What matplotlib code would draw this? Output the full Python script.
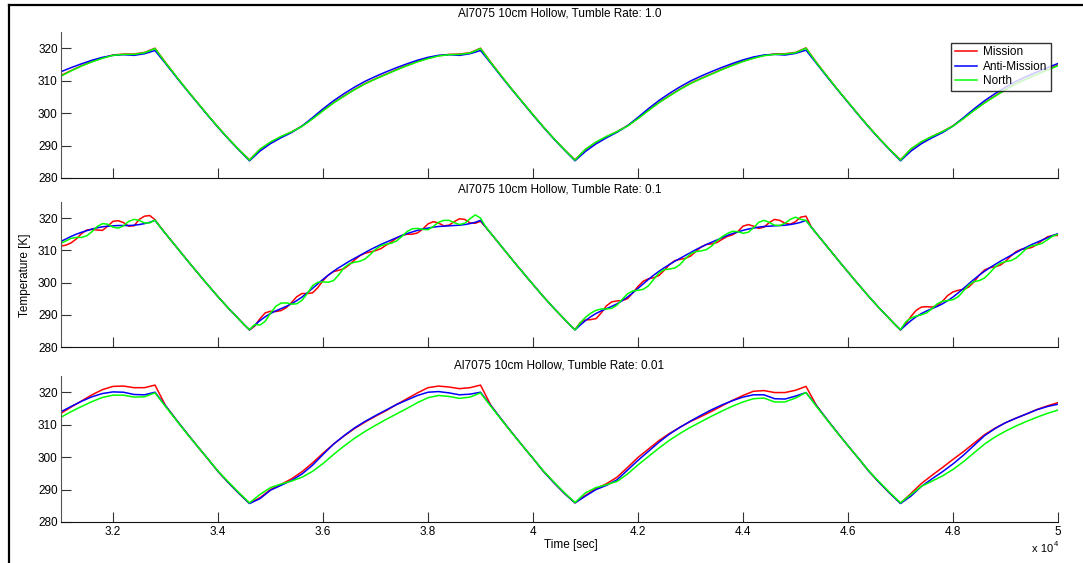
import numpy as np
import matplotlib
matplotlib.use("Agg")
import matplotlib.pyplot as plt
from matplotlib.lines import Line2D

plt.rcParams['font.family'] = ['Liberation Sans', 'DejaVu Sans']

# time grids (s): 200 s sampling for the smooth panels, 100 s for the tumbling one
t_coarse = np.linspace(31000, 50000, 96)
t_fine = np.linspace(31000, 50000, 191)

series_names = ["Mission", "Anti-Mission", "North"]
series_colors = ["#ff0000", "#0000ff", "#00ff00"]
titles = ["Al7075 10cm Hollow, Tumble Rate: 1.0",
          "Al7075 10cm Hollow, Tumble Rate: 0.1",
          "Al7075 10cm Hollow, Tumble Rate: 0.01"]
xtick_vals = [32000, 34000, 36000, 38000, 40000, 42000, 44000, 46000, 48000, 50000]
xtick_text = ["3.2", "3.4", "3.6", "3.8", "4", "4.2", "4.4", "4.6", "4.8", "5"]
ytick_vals = [280, 290, 300, 310, 320]

# ---- tumble rate 1.0 (t_coarse) ----
mission_1 = [
    311.5, 313.1, 314.6, 315.9, 317.0, 317.9, 318.2, 318.2, 318.7, 320.0,
    315.6, 311.4, 307.3, 303.4, 299.5, 295.7, 292.1, 288.7, 285.6,
    288.8, 291.0, 292.7, 294.2, 296.0, 298.3, 300.8, 303.2, 305.3, 307.3,
    309.1, 310.6, 312.0, 313.4, 314.7, 315.9, 316.9, 317.7, 318.1, 318.2, 318.6,
    320.0,
    315.6, 311.4, 307.3, 303.4, 299.5, 295.7, 292.1, 288.7, 285.6,
    288.8, 291.0, 292.7, 294.3, 296.1, 298.4, 300.9, 303.3, 305.4, 307.4,
    309.2, 310.7, 312.1, 313.5, 314.8, 316.0, 317.0, 317.8, 318.2, 318.3, 318.7,
    320.1,
    315.6, 311.4, 307.3, 303.4, 299.5, 295.7, 292.1, 288.7, 285.6,
    288.9, 291.1, 292.8, 294.3, 296.1, 298.4, 300.9, 303.2, 305.3, 307.3,
    309.1, 310.6, 312.0, 313.4, 314.8]
anti_1 = [
    312.7, 314.0, 315.2, 316.3, 317.2, 317.8, 318.0, 317.8, 318.3, 319.3,
    315.3, 311.2, 307.2, 303.3, 299.4, 295.6, 292.0, 288.6, 285.3,
    288.3, 290.6, 292.4, 294.0, 296.0, 298.6, 301.3, 303.8, 306.0, 308.0,
    309.8, 311.3, 312.7, 314.0, 315.2, 316.3, 317.2, 317.8, 318.0, 317.8, 318.3,
    319.3,
    315.3, 311.2, 307.2, 303.3, 299.4, 295.6, 292.0, 288.6, 285.3,
    288.2, 290.5, 292.4, 294.1, 296.1, 298.7, 301.4, 303.9, 306.1, 308.1,
    309.9, 311.4, 312.8, 314.1, 315.3, 316.4, 317.3, 317.9, 318.1, 317.9, 318.4,
    319.4,
    315.3, 311.2, 307.2, 303.3, 299.4, 295.6, 292.0, 288.6, 285.3,
    288.3, 290.6, 292.4, 294.0, 296.0, 298.6, 301.3, 303.8, 306.0, 308.0,
    309.8, 311.3, 312.7, 314.0, 315.3]
north_1 = [
    311.3, 313.0, 314.5, 315.8, 316.9, 317.8, 318.1, 318.1, 318.6, 319.9,
    315.5, 311.4, 307.3, 303.4, 299.5, 295.7, 292.1, 288.7, 285.5,
    288.9, 291.1, 292.8, 294.2, 295.9, 298.2, 300.7, 303.1, 305.2, 307.2,
    309.0, 310.5, 311.9, 313.3, 314.6, 315.8, 316.8, 317.6, 318.0, 318.1, 318.5,
    319.9,
    315.5, 311.4, 307.3, 303.4, 299.5, 295.7, 292.1, 288.7, 285.5,
    288.9, 291.1, 292.8, 294.3, 296.0, 298.3, 300.8, 303.2, 305.3, 307.3,
    309.1, 310.6, 312.0, 313.4, 314.7, 315.9, 316.9, 317.7, 318.1, 318.2, 318.6,
    320.0,
    315.5, 311.4, 307.3, 303.4, 299.5, 295.7, 292.1, 288.7, 285.5,
    289.0, 291.2, 292.8, 294.3, 296.0, 298.3, 300.8, 303.1, 305.2, 307.2,
    309.0, 310.5, 311.9, 313.3, 314.6]

# ---- tumble rate 0.1 (t_fine) ----
mission_2 = [
    311.3, 311.6, 312.3, 313.5, 315.2, 316.3, 316.5, 316.3, 316.2, 317.5,
    319.0, 319.2, 318.6, 317.5, 317.6, 319.6, 320.6, 320.8, 319.5,
    317.3, 315.2, 313.2, 311.2, 309.2, 307.2, 305.2, 303.3, 301.3, 299.4,
    297.5, 295.6, 293.8, 292.0, 290.3, 288.6, 286.9, 285.3,
    286.5, 288.8, 290.6, 291.1, 291.0, 291.3, 292.2, 293.8, 295.6, 296.6,
    296.6, 296.8, 298.4, 300.6, 302.3, 303.4, 303.8, 304.3, 305.5, 307.0,
    308.3, 309.1, 309.5, 309.9, 310.5, 311.6, 312.6, 313.8, 314.6, 315.0,
    315.0, 315.4, 316.6, 318.2, 318.9, 318.5, 317.6, 317.8, 318.9, 319.8,
    319.6, 318.5, 318.4,
    319.0,
    317.2, 315.2, 313.2, 311.2, 309.2, 307.2, 305.2, 303.3, 301.3, 299.4,
    297.5, 295.6, 293.8, 292.0, 290.3, 288.6, 286.9, 285.4,
    287.6, 288.4, 288.5, 288.8, 290.6, 292.8, 294.0, 294.3, 294.4, 295.0,
    296.8, 298.8, 300.4, 301.2, 301.5, 302.2, 303.8, 305.6, 306.8, 307.2,
    307.5, 308.2, 309.6, 311.0, 311.8, 312.0, 312.4, 313.4, 314.3, 314.8,
    315.8, 317.5, 318.0, 317.5, 316.8, 317.2, 318.6, 319.6, 319.3, 318.4,
    318.1, 318.9, 320.3,
    320.6,
    317.3, 315.2, 313.2, 311.2, 309.2, 307.2, 305.2, 303.3, 301.3, 299.4,
    297.5, 295.6, 293.8, 292.0, 290.3, 288.6, 286.9, 285.3,
    287.2, 289.5, 291.4, 292.4, 292.5, 292.4, 292.8, 294.2, 296.0, 297.1,
    297.6, 297.9, 298.6, 300.2, 302.3, 303.9, 304.6, 304.9, 305.4, 306.6,
    308.2, 309.6, 310.3, 310.5, 310.9, 311.8, 313.1, 314.2, 314.6, 314.6]
anti_2 = [
    312.7, 313.5, 314.3, 315.0, 315.6, 316.1, 316.6, 317.0, 317.3, 317.5,
    317.6, 317.7, 317.7, 317.7, 317.8, 318.0, 318.3, 318.7, 319.3,
    317.2, 315.2, 313.2, 311.2, 309.2, 307.2, 305.2, 303.3, 301.3, 299.4,
    297.5, 295.6, 293.8, 292.0, 290.3, 288.6, 286.9, 285.3,
    286.8, 288.2, 289.4, 290.4, 291.2, 291.9, 292.6, 293.4, 294.4, 295.5,
    296.8, 298.2, 299.6, 301.0, 302.3, 303.5, 304.6, 305.6, 306.6, 307.5,
    308.4, 309.3, 310.2, 311.0, 311.8, 312.5, 313.2, 313.9, 314.6, 315.2,
    315.7, 316.2, 316.6, 316.9, 317.2, 317.4, 317.5, 317.6, 317.7, 317.8,
    318.0, 318.3, 318.7,
    319.3,
    317.2, 315.2, 313.2, 311.2, 309.2, 307.2, 305.2, 303.3, 301.3, 299.4,
    297.5, 295.6, 293.8, 292.0, 290.3, 288.6, 286.9, 285.3,
    286.8, 288.2, 289.4, 290.4, 291.2, 291.9, 292.6, 293.4, 294.4, 295.5,
    296.8, 298.2, 299.6, 301.0, 302.3, 303.5, 304.6, 305.6, 306.6, 307.5,
    308.4, 309.3, 310.2, 311.0, 311.8, 312.5, 313.2, 313.9, 314.6, 315.2,
    315.7, 316.2, 316.6, 316.9, 317.2, 317.4, 317.5, 317.6, 317.7, 317.8,
    318.0, 318.3, 318.7,
    319.3,
    317.2, 315.2, 313.2, 311.2, 309.2, 307.2, 305.2, 303.3, 301.3, 299.4,
    297.5, 295.6, 293.8, 292.0, 290.3, 288.6, 286.9, 285.3,
    286.8, 288.2, 289.4, 290.4, 291.2, 291.9, 292.6, 293.4, 294.4, 295.5,
    296.8, 298.2, 299.6, 301.0, 302.3, 303.5, 304.6, 305.6, 306.6, 307.5,
    308.4, 309.3, 310.2, 311.0, 311.8, 312.5, 313.2, 313.9, 314.6, 315.2]
north_2 = [
    312.1, 312.9, 313.7, 314.0, 314.0, 314.5, 315.8, 317.4, 318.3, 318.1,
    317.2, 316.9, 317.6, 319.0, 319.6, 319.3, 318.5, 318.5, 319.4,
    317.2, 315.2, 313.2, 311.2, 309.2, 307.2, 305.2, 303.3, 301.3, 299.4,
    297.5, 295.6, 293.8, 292.0, 290.3, 288.6, 286.9, 285.4,
    287.0, 286.8, 288.0, 290.5, 292.6, 293.6, 293.7, 293.3, 293.4, 294.5,
    296.6, 299.0, 300.1, 300.2, 300.1, 300.6, 302.4, 304.6, 305.8, 306.3,
    306.6, 307.3, 308.7, 310.3, 311.4, 311.9, 312.2, 312.9, 314.3, 315.8,
    316.7, 316.8, 316.5, 316.4, 317.4, 318.7, 319.3, 319.3, 318.6, 318.0,
    318.4, 319.8, 321.0,
    320.0,
    317.3, 315.2, 313.2, 311.2, 309.2, 307.2, 305.2, 303.3, 301.3, 299.4,
    297.5, 295.6, 293.8, 292.0, 290.3, 288.6, 286.9, 285.3,
    287.5, 289.2, 290.5, 291.4, 291.8, 291.8, 292.0, 293.0, 294.8, 296.5,
    297.4, 297.6, 297.9, 299.0, 301.0, 303.0, 304.0, 304.2, 304.5, 305.6,
    307.4, 308.9, 309.6, 309.8, 310.2, 311.3, 312.9, 314.2, 315.2, 315.9,
    315.8, 315.3, 315.6, 317.0, 318.7, 319.3, 318.7, 317.8, 317.7, 318.4,
    319.6, 320.3, 319.6,
    319.3,
    317.2, 315.2, 313.2, 311.2, 309.2, 307.2, 305.2, 303.3, 301.3, 299.4,
    297.5, 295.6, 293.8, 292.0, 290.3, 288.6, 286.9, 285.4,
    287.8, 289.0, 289.6, 290.0, 290.6, 291.9, 293.4, 294.2, 294.4, 294.7,
    295.6, 297.4, 299.2, 300.3, 300.6, 301.4, 303.0, 304.8, 306.0, 306.5,
    306.8, 307.6, 309.0, 310.6, 311.4, 311.7, 312.2, 313.3, 314.4, 315.0]

# ---- tumble rate 0.01 (t_coarse) ----
mission_3 = [
    313.4, 315.4, 317.3, 319.2, 320.8, 321.8, 321.9, 321.4, 321.4, 322.2,
    315.9, 311.6, 307.5, 303.5, 299.6, 295.6, 292.1, 288.8, 285.8,
    287.5, 290.0, 291.6, 293.3, 295.5, 298.2, 301.2, 304.0, 306.5, 308.8,
    310.8, 312.6, 314.3, 316.2, 318.0, 319.8, 321.4, 321.9, 321.6, 321.1, 321.4,
    322.2,
    315.9, 311.6, 307.5, 303.5, 299.6, 295.6, 292.1, 288.8, 285.9,
    288.2, 290.3, 291.8, 293.8, 296.8, 299.9, 302.5, 305.1, 307.3, 309.2,
    311.0, 312.5, 314.1, 315.8, 317.5, 319.0, 320.3, 320.5, 319.9, 319.9, 320.6,
    321.8,
    315.9, 311.6, 307.5, 303.5, 299.6, 295.6, 292.1, 288.8, 285.8,
    288.8, 291.9, 294.4, 296.8, 299.3, 301.7, 304.3, 306.9, 308.9, 310.6,
    312.0, 313.3, 314.7, 315.8, 316.8]
anti_3 = [
    313.9, 315.6, 317.2, 318.6, 319.6, 320.1, 320.0, 319.3, 319.2, 320.0,
    315.8, 311.6, 307.5, 303.5, 299.6, 295.6, 292.1, 288.8, 285.7,
    287.2, 289.8, 291.3, 292.8, 294.8, 297.5, 300.8, 304.0, 306.6, 309.0,
    311.0, 312.8, 314.5, 316.2, 317.6, 319.0, 320.0, 320.2, 319.8, 319.2, 319.4,
    320.0,
    315.8, 311.6, 307.5, 303.5, 299.6, 295.6, 292.1, 288.8, 285.9,
    288.0, 290.0, 291.3, 293.0, 296.0, 299.0, 301.8, 304.6, 307.1, 309.2,
    311.1, 312.9, 314.6, 316.1, 317.4, 318.5, 319.2, 319.2, 318.0, 317.9, 318.8,
    319.9,
    315.8, 311.6, 307.5, 303.5, 299.6, 295.6, 292.1, 288.8, 285.7,
    288.0, 291.0, 293.3, 295.5, 297.9, 300.6, 303.6, 306.6, 308.8, 310.6,
    312.0, 313.3, 314.6, 315.6, 316.3]
north_3 = [
    312.2, 314.0, 315.6, 317.1, 318.4, 319.1, 319.1, 318.5, 318.6, 319.8,
    315.6, 311.5, 307.4, 303.5, 299.6, 295.7, 292.3, 289.0, 285.9,
    288.5, 290.6, 291.7, 292.6, 293.8, 295.6, 298.0, 300.8, 303.4, 305.8,
    307.9, 309.8, 311.6, 313.3, 315.0, 316.8, 318.3, 319.0, 318.7, 318.1, 318.5,
    319.8,
    315.6, 311.5, 307.4, 303.5, 299.6, 295.7, 292.3, 289.0, 286.0,
    289.0, 290.6, 291.5, 292.5, 294.8, 297.6, 300.2, 302.8, 305.2, 307.3,
    309.2, 310.9, 312.6, 314.2, 315.7, 317.0, 318.0, 318.2, 317.0, 317.0, 318.2,
    319.9,
    315.6, 311.5, 307.4, 303.5, 299.6, 295.7, 292.3, 289.0, 285.9,
    288.5, 291.0, 292.6, 294.2, 296.2, 298.6, 301.3, 304.0, 306.2, 308.0,
    309.6, 311.0, 312.3, 313.5, 314.5]

panels = [
    (t_coarse, [mission_1, anti_1, north_1]),
    (t_fine, [mission_2, anti_2, north_2]),
    (t_coarse, [mission_3, anti_3, north_3]),
]

W, H = 1083, 563
fig = plt.figure(figsize=(W / 100, H / 100), dpi=100)

ax_left = 60.5 / W
ax_width = (1058 - 60.5) / W
# (top px, bottom px) of each axes box
boxes = [(32, 178), (202, 347), (376, 522)]
title_y = [13, 190, 366]

axes = []
for k, ((t, ys), (top, bot)) in enumerate(zip(panels, boxes)):
    ax = fig.add_axes([ax_left, 1 - bot / H, ax_width, (bot - top) / H])
    for name, col, y in zip(series_names, series_colors, ys):
        ax.plot(t, y, color=col, lw=1.1, label=name)
    ax.set_xlim(31000, 50000)
    ax.set_ylim(280, 325)
    ax.set_xticks(xtick_vals)
    ax.set_yticks(ytick_vals)
    ax.set_yticklabels([str(v) for v in ytick_vals], fontsize=8.5)
    if k == 2:
        ax.set_xticklabels(xtick_text, fontsize=8.5)
    else:
        ax.set_xticklabels([])
    for side in ("top", "right"):
        ax.spines[side].set_visible(False)
    ax.spines["left"].set_color("#555555")
    ax.spines["bottom"].set_color("#111111")
    ax.tick_params(axis="x", direction="in", length=7, width=0.8, color="#333333", pad=3)
    ax.tick_params(axis="y", direction="in", length=7, width=0.8, color="#333333", pad=2)
    fig.text(559.5 / W, 1 - title_y[k] / H, titles[k], ha="center", va="center", fontsize=8.5)
    axes.append(ax)

leg = axes[0].legend(loc="upper right", bbox_to_anchor=(0.993, 0.925), borderaxespad=0,
                     fontsize=8.5, frameon=True, fancybox=False, handlelength=1.9,
                     handletextpad=0.5, borderpad=0.3, labelspacing=0.2)
leg.get_frame().set_edgecolor("black")
leg.get_frame().set_linewidth(1.0)

fig.text(25 / W, 1 - 275 / H, "Temperature [K]", rotation=90, ha="center", va="center", fontsize=8.5)
fig.text(571 / W, 1 - 545 / H, "Time [sec]", ha="center", va="center", fontsize=8.5)
fig.text(1053 / W, 1 - 549 / H, "x 10", ha="right", va="center", fontsize=8)
fig.text(1054 / W, 1 - 544 / H, "4", ha="left", va="center", fontsize=5.5)

# outer frame (top and left edges visible in the original)
fig.add_artist(Line2D([8.5 / W, 8.5 / W], [0, 1 - 4.5 / H], transform=fig.transFigure, color="black", lw=1.6))
fig.add_artist(Line2D([8.5 / W, 1], [1 - 4.5 / H, 1 - 4.5 / H], transform=fig.transFigure, color="black", lw=1.6))

fig.savefig("out.png", dpi=100)
